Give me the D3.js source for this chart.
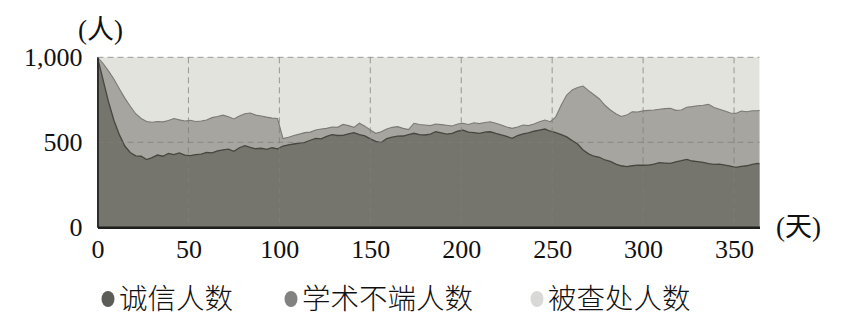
<!DOCTYPE html>
<html>
<head>
<meta charset="utf-8">
<script src="https://cdn.jsdelivr.net/npm/d3@7"></script>
<style>
  body { margin: 0; background: #fff; }
  .tick text { font-family: "Liberation Serif", "Times New Roman", serif; font-size: 26px; fill: #111; }
  .unit { font-family: "Liberation Serif", "Noto Sans CJK SC", serif; font-size: 27px; fill: #111; }
  .legend text { font-family: "Noto Sans CJK SC", sans-serif; font-weight: 300; font-size: 28.5px; fill: #111; }
</style>
</head>
<body>
<div id="chart"></div>
<script>
// sampled every 3 days, last point at day 364
const days = d3.range(0, 364, 3).concat([364]);

// 诚信人数
const honest = [
  1000, 870, 740, 630, 545, 478, 440, 420, 418, 398,
  410, 425, 418, 435, 428, 438, 425, 422, 428, 430,
  440, 438, 450, 455, 460, 447, 468, 480, 470, 462,
  465, 458, 468, 461, 478, 485, 490, 495, 500, 512,
  523, 520, 535, 545, 540, 541, 550, 557, 545, 538,
  520, 505, 498, 522, 530, 536, 537, 545, 553, 545,
  543, 548, 562, 555, 548, 553, 565, 572, 560, 557,
  552, 560, 562, 552, 543, 535, 523, 540, 549, 555,
  565, 572, 578, 565, 557, 545, 532, 510, 490, 455,
  432, 418, 412, 396, 388, 372, 362, 357, 362, 366,
  365, 366, 372, 380, 378, 376, 385, 392, 400, 390,
  386, 382, 374, 370, 372, 366, 360, 353, 358, 362,
  370, 376, 374
];

// 诚信人数 + 学术不端人数
const misconductTop = [
  1000, 965, 920, 872, 815, 760, 712, 668, 640, 622,
  618, 622, 620, 628, 640, 632, 625, 630, 622, 625,
  631, 645, 652, 660, 650, 637, 655, 668, 672, 660,
  655, 648, 642, 640, 522, 530, 540, 548, 557, 560,
  572, 578, 582, 590, 588, 605, 598, 588, 612, 595,
  572, 553, 562, 578, 588, 592, 582, 575, 612, 605,
  602, 598, 608, 604, 600, 596, 608, 612, 605, 615,
  610, 616, 621, 612, 602, 590, 582, 590, 602, 598,
  608, 621, 631, 621, 650, 720, 778, 808, 822, 831,
  804, 780, 755, 718, 690, 668, 652, 660, 680, 678,
  685, 688, 690, 694, 698, 700, 688, 690, 706, 710,
  715, 718, 723, 705, 695, 684, 672, 670, 684, 680,
  686, 686, 688
];

const total = 1000;
const xTicks = [0, 50, 100, 150, 200, 250, 300, 350];
const yTicks = [0, 500, 1000];
const legendNames = ["诚信人数", "学术不端人数", "被查处人数"];
const legendColors = ["#5b5b58", "#828280", "#d9d9d7"];

const width = 844;
const height = 331;
const svg = d3.select("#chart").append("svg")
    .attr("width", width)
    .attr("height", height);

const x = d3.scaleLinear().domain([0, 364]).range([97.5, 759.5]);
const y = d3.scaleLinear().domain([0, total]).range([227.3, 57.3]);

const points = days.map((d, i) => ({ day: d, low: honest[i], high: misconductTop[i] }));

// 被查处 background block
svg.append("rect")
    .attr("x", x(0))
    .attr("y", y(total))
    .attr("width", x(364) - x(0))
    .attr("height", y(0) - y(total))
    .attr("fill", "#e3e3de");

const areaHigh = d3.area().x(d => x(d.day)).y0(y(0)).y1(d => y(d.high));
const areaLow = d3.area().x(d => x(d.day)).y0(y(0)).y1(d => y(d.low));

svg.append("path").datum(points).attr("d", areaHigh).attr("fill", "#a6a59f");
svg.append("path").datum(points).attr("d", areaLow).attr("fill", "#75746d");

svg.append("path").datum(points)
    .attr("d", d3.line().x(d => x(d.day)).y(d => y(d.high)))
    .attr("fill", "none").attr("stroke", "#7b7a74").attr("stroke-width", 1.1);
svg.append("path").datum(points)
    .attr("d", d3.line().x(d => x(d.day)).y(d => y(d.low)))
    .attr("fill", "none").attr("stroke", "#47463f").attr("stroke-width", 1.3);

// dashed grid
const grid = svg.append("g")
    .attr("stroke", "#7d7d78")
    .attr("stroke-opacity", 0.75)
    .attr("stroke-dasharray", "6,4")
    .attr("stroke-width", 1);
grid.selectAll(".gx").data(xTicks.filter(d => d > 0)).enter().append("line")
    .attr("x1", d => x(d)).attr("x2", d => x(d))
    .attr("y1", y(total)).attr("y2", y(0));
grid.selectAll(".gy").data(yTicks.filter(d => d > 0)).enter().append("line")
    .attr("x1", x(0)).attr("x2", x(364))
    .attr("y1", d => y(d)).attr("y2", d => y(d));

// axes
const yAxis = svg.append("g")
    .attr("transform", `translate(${x(0)},0)`)
    .call(d3.axisLeft(y).tickValues(yTicks).tickFormat(d3.format(",")).tickSize(0).tickPadding(15));
yAxis.select(".domain").attr("stroke", "#2e2e2b").attr("stroke-width", 2);

const xAxis = svg.append("g")
    .attr("transform", `translate(0,${y(0)})`)
    .call(d3.axisBottom(x).tickValues(xTicks).tickSize(0).tickPadding(12));
xAxis.select(".domain").attr("stroke", "#1e1e1c").attr("stroke-width", 2.5);

// units
svg.append("text").attr("class", "unit")
    .attr("x", 78).attr("y", 39)
    .text("(人)");
svg.append("text").attr("class", "unit")
    .attr("x", 776).attr("y", 236)
    .text("(天)");

// legend
const legendX = [108, 291, 537];
const legend = svg.append("g").attr("class", "legend");
legendNames.forEach((name, i) => {
    legend.append("ellipse")
        .attr("cx", legendX[i]).attr("cy", 299)
        .attr("rx", 6.5).attr("ry", 8)
        .attr("fill", legendColors[i]);
    legend.append("text")
        .attr("x", legendX[i] + 11)
        .attr("y", 299)
        .attr("dy", "0.36em")
        .text(name);
});
</script>
</body>
</html>
